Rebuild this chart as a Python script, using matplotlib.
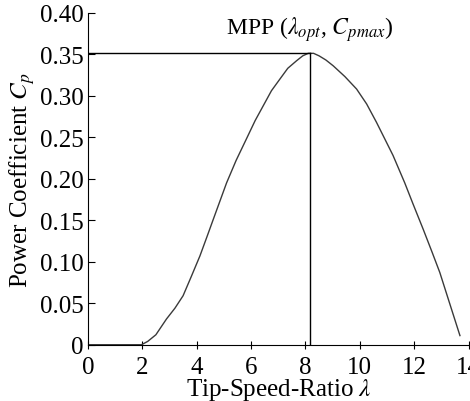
import numpy as np
import matplotlib.pyplot as plt
from matplotlib.ticker import FuncFormatter

plt.rcParams['font.family'] = ['Liberation Serif', 'DejaVu Serif']
plt.rcParams['mathtext.fontset'] = 'stix'

# Cp curve
tsr = [0, 1.0, 1.97, 2.2, 2.5, 2.89, 3.2, 3.5, 3.8, 4.12, 4.4, 4.61, 5.1, 5.45,
       5.83, 6.15, 6.45, 6.75, 7.06, 7.35, 7.67, 7.9, 8.1, 8.3, 8.5, 8.75,
       9.02, 9.45, 9.88, 10.25, 10.61, 10.9, 11.22, 11.65, 11.95, 12.33,
       12.65, 12.94, 13.3, 13.68]
cp = [0, 0, 0, 0.004, 0.012, 0.031, 0.044, 0.059, 0.082, 0.107, 0.132, 0.151,
      0.195, 0.222, 0.248, 0.270, 0.288, 0.306, 0.320, 0.333, 0.342, 0.348,
      0.351, 0.351, 0.348, 0.343, 0.336, 0.323, 0.308, 0.290, 0.268, 0.249,
      0.228, 0.195, 0.170, 0.139, 0.112, 0.087, 0.050, 0.011]

# maximum power point
lam_opt = 8.17
cp_max = 0.352

xticks = [0, 2, 4, 6, 8, 10, 12, 14]
yticks = [0, 0.05, 0.10, 0.15, 0.20, 0.25, 0.30, 0.35, 0.40]

fig = plt.figure(figsize=(4.7, 4.02), dpi=100)
ax = fig.add_axes([0.187, 0.140, 0.813, 0.826])

ax.plot(tsr, cp, color='#3a3a3a', lw=1.0)
ax.plot([0, lam_opt], [cp_max, cp_max], color='black', lw=1.0)
ax.plot([lam_opt, lam_opt], [0, cp_max], color='black', lw=1.0)

ax.text(lam_opt, cp_max + 0.011, r'MPP ($\lambda_{opt}$, $C_{pmax}$)',
        ha='center', va='bottom', fontsize=17)

ax.set_xlim(0, 14.05)
ax.set_ylim(0, 0.40)
ax.set_xticks(xticks)
ax.set_yticks(yticks)
ax.yaxis.set_major_formatter(FuncFormatter(lambda v, p: '0' if v == 0 else '%.2f' % v))

ax.spines['top'].set_visible(False)
ax.spines['right'].set_visible(False)
ax.tick_params(axis='y', direction='in', length=5, labelsize=18, pad=3)
ax.tick_params(axis='x', direction='inout', length=6, labelsize=18, pad=5)

ax.set_xlabel(r'Tip-Speed-Ratio $\lambda$', fontsize=18, labelpad=-1)
ax.set_ylabel(r'Power Coefficient $C_p$', fontsize=18, labelpad=2)

fig.savefig('out.png', dpi=100)
